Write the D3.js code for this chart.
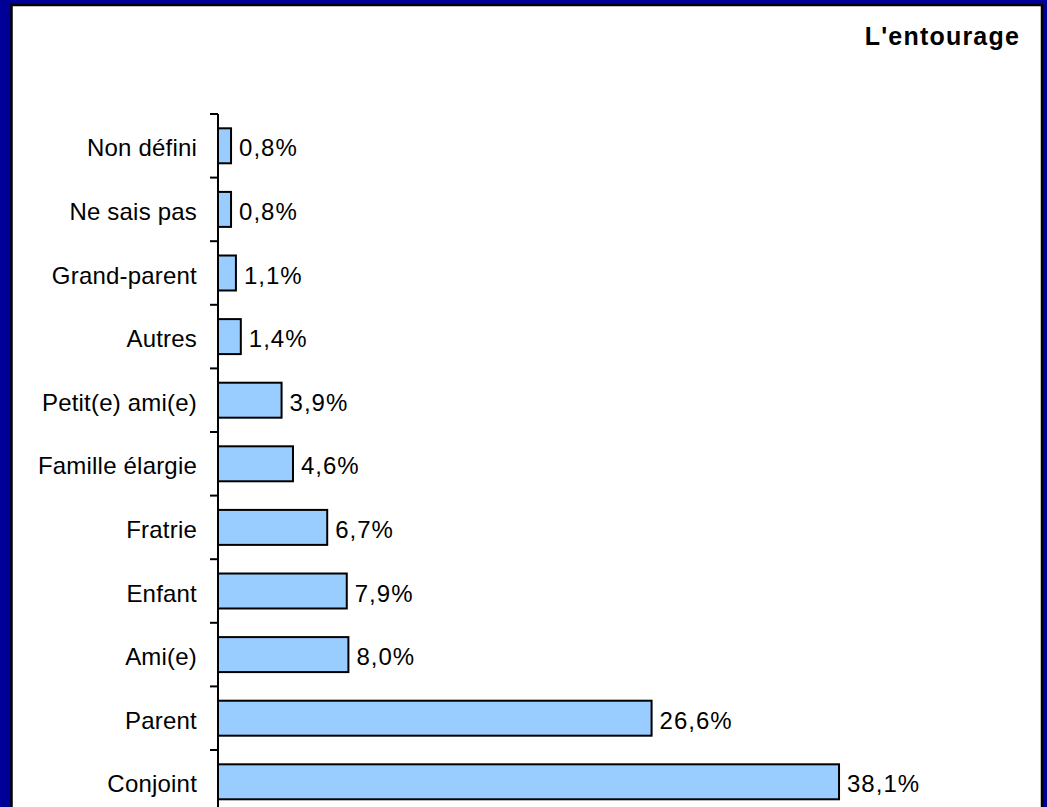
<!DOCTYPE html>
<html>
<head>
<meta charset="utf-8">
<script src="https://cdn.jsdelivr.net/npm/d3@7"></script>
<style>
  body { margin: 0; padding: 0; background: #000099; }
  svg { display: block; font-family: "Liberation Sans", Arial, sans-serif; }
</style>
</head>
<body>
<script>
// categories from top to bottom, as in the picture
var categories = ["Non défini", "Ne sais pas", "Grand-parent", "Autres",
    "Petit(e) ami(e)", "Famille élargie", "Fratrie", "Enfant", "Ami(e)",
    "Parent", "Conjoint"];
var values = [0.8, 0.8, 1.1, 1.4, 3.9, 4.6, 6.7, 7.9, 8.0, 26.6, 38.1];
var valueLabels = ["0,8%", "0,8%", "1,1%", "1,4%", "3,9%", "4,6%", "6,7%",
    "7,9%", "8,0%", "26,6%", "38,1%"];
var title = "L'entourage";

var width = 1047, height = 807;

var svg = d3.select("body").append("svg")
    .attr("width", width)
    .attr("height", height);

// dark blue frame with the white plot area (bottom edge runs off the page)
svg.append("rect")
    .attr("width", width)
    .attr("height", height)
    .style("fill", "#000099");

svg.append("rect")
    .attr("x", 11.5)
    .attr("y", 5)
    .attr("width", 1030.5)
    .attr("height", 840)
    .style("fill", "white")
    .style("stroke", "black")
    .style("stroke-width", "2.5px");

// scales: each slot is ~63.6px, the axis goes on below the visible area
var x = d3.scaleLinear().domain([0, 40]).range([218, 870]);
var y = d3.scaleBand()
    .domain(categories)
    .range([114, 114 + 63.6 * categories.length])
    .paddingInner(0.45)
    .paddingOuter(0.225);

var step = y.step();
var top0 = y.range()[0];

// vertical axis line and ticks between categories
svg.append("line")
    .attr("x1", x(0)).attr("x2", x(0))
    .attr("y1", top0).attr("y2", y.range()[1])
    .style("stroke", "black")
    .style("stroke-width", "2px");

svg.selectAll(".tick")
    .data(d3.range(categories.length + 1))
    .enter()
    .append("line")
    .attr("class", "tick")
    .attr("x1", x(0) - 8).attr("x2", x(0))
    .attr("y1", function(i){ return top0 + i * step; })
    .attr("y2", function(i){ return top0 + i * step; })
    .style("stroke", "black")
    .style("stroke-width", "2px");

// bars
svg.selectAll(".bar")
    .data(values)
    .enter()
    .append("rect")
    .attr("class", "bar")
    .attr("x", x(0))
    .attr("y", function(d, i){ return y(categories[i]); })
    .attr("width", function(d){ return x(d) - x(0); })
    .attr("height", y.bandwidth())
    .style("fill", "#99CCFF")
    .style("stroke", "black")
    .style("stroke-width", "2px");

// value labels
svg.selectAll(".val")
    .data(values)
    .enter()
    .append("text")
    .attr("class", "val")
    .attr("x", function(d){ return x(d) + 8; })
    .attr("y", function(d, i){ return y(categories[i]) + y.bandwidth() / 2 + 10.5; })
    .style("font-size", "24px")
    .style("letter-spacing", "1px")
    .style("fill", "black")
    .text(function(d, i){ return valueLabels[i]; });

// category labels
svg.selectAll(".cat")
    .data(categories)
    .enter()
    .append("text")
    .attr("class", "cat")
    .attr("x", 197)
    .attr("y", function(d){ return y(d) + y.bandwidth() / 2 + 10.5; })
    .attr("text-anchor", "end")
    .style("font-size", "24px")
    .style("letter-spacing", "0.2px")
    .style("fill", "black")
    .text(function(d){ return d; });

// title
svg.append("text")
    .attr("x", 1020)
    .attr("y", 45)
    .attr("text-anchor", "end")
    .style("font-size", "25px")
    .style("font-weight", "bold")
    .style("letter-spacing", "1.2px")
    .text(title);
</script>
</body>
</html>
